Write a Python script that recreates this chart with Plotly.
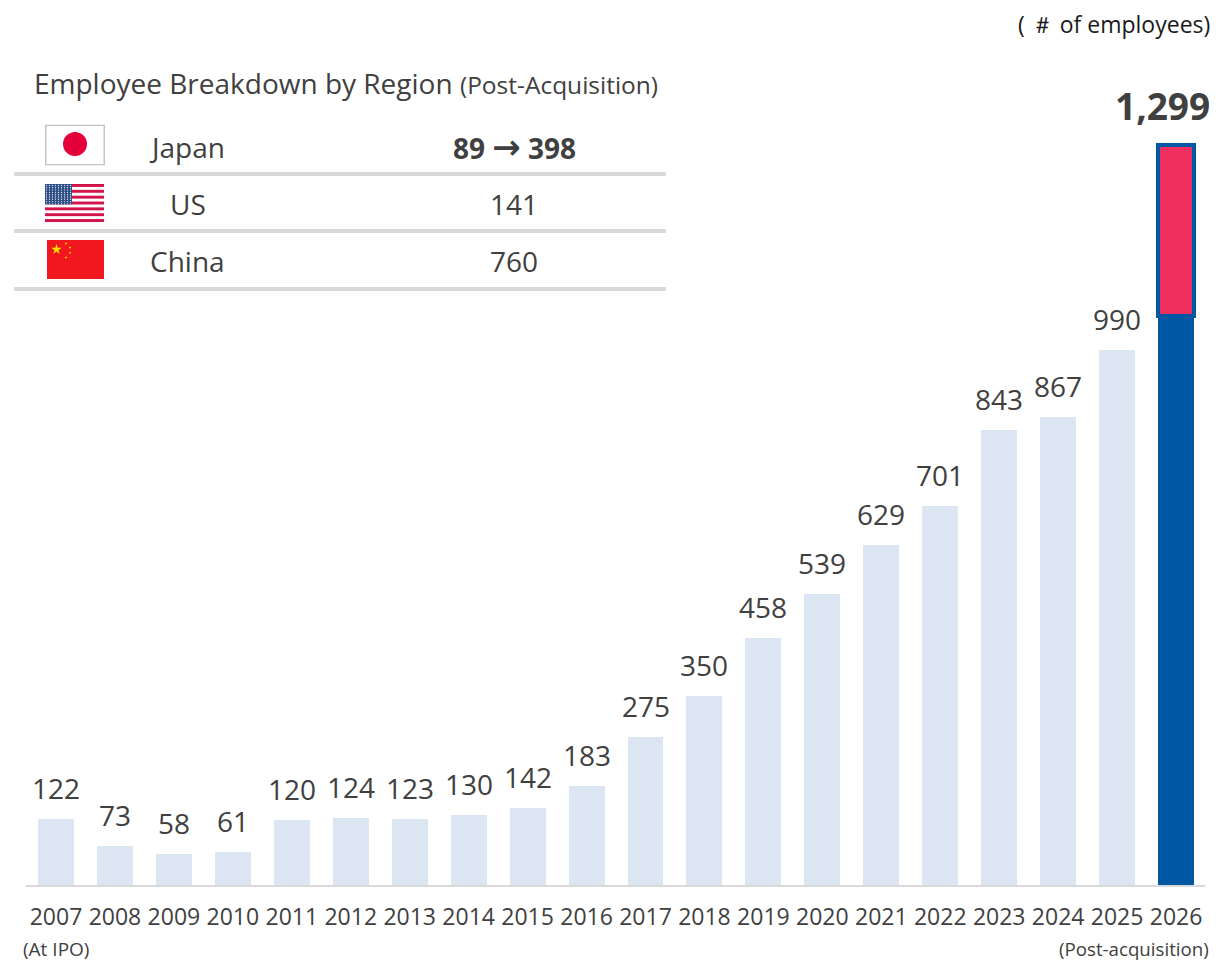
import base64
import math
import plotly.graph_objects as go

years = list(range(2007, 2026))
employees = [122, 73, 58, 61, 120, 124, 123, 130, 142, 183, 275, 350, 458, 539, 629, 701, 843, 867, 990]
year_2026 = 2026
base_2026_drawn = 1054
added_2026_drawn = 317
label_2026 = "1,299"
tick_years = list(range(2007, 2027))
regions = ["Japan", "US", "China"]
region_values = ["89 <span style=\"font-family:'DejaVu Sans';font-size:34px\">→</span> 398", "141", "760"]

PAGE_OFFSET = 8  # default body margin of the written page
W, H = 1230, 965
L, R, B = 26, 25, 80
PLOT_W = W - L - R
PLOT_H = H - B - PAGE_OFFSET
PX_PER_YEAR = 58.95
PX_PER_UNIT = 0.54
X0_PX = 56
TEXT = "#404040"
FONT = "Open Sans"


def px(x):
    return (x - L) / PLOT_W


def py(y):
    return (H - B - y) / PLOT_H


def x_at(p):
    return 2007 + (p - X0_PX) / PX_PER_YEAR


def svg_uri(svg):
    return "data:image/svg+xml;base64," + base64.b64encode(svg.encode()).decode()


japan_svg = ('<svg xmlns="http://www.w3.org/2000/svg" width="60" height="41" viewBox="0 0 60 41">'
             '<rect x="0.75" y="0.75" width="58.5" height="39.5" fill="#fff" stroke="#c4c4c4" stroke-width="1.5"/>'
             '<circle cx="30" cy="19.5" r="12" fill="#e4003a"/></svg>')
stripes = "".join(f'<rect y="{i * 38 / 13:.2f}" width="59" height="{38 / 13:.2f}" fill="#d2144a"/>' for i in range(0, 13, 2))
dots = "".join(f'<circle cx="{1.5 + c * 3:.1f}" cy="{1.5 + r * 2.3:.1f}" r="0.7" fill="#dfe6f0"/>'
               for r in range(9) for c in range(9))
us_svg = ('<svg xmlns="http://www.w3.org/2000/svg" width="59" height="38" viewBox="0 0 59 38">'
          f'<rect width="59" height="38" fill="#fff"/>{stripes}'
          f'<rect width="27" height="20.5" fill="#2a4d86"/>{dots}</svg>')


def star(cx, cy, r):
    pts = []
    for i in range(10):
        a = -math.pi / 2 + i * math.pi / 5
        rr = r if i % 2 == 0 else r * 0.38
        pts.append(f"{cx + rr * math.cos(a):.2f},{cy + rr * math.sin(a):.2f}")
    return f'<polygon points="{" ".join(pts)}" fill="#ffe000"/>'


china_svg = ('<svg xmlns="http://www.w3.org/2000/svg" width="57" height="39" viewBox="0 0 57 39">'
             '<rect width="57" height="39" fill="#f0171f"/>'
             + star(9.5, 9.5, 5.5) + star(19, 3.5, 1.6) + star(23, 7.5, 1.6) + star(23, 13, 1.6) + star(19, 17.5, 1.6)
             + '</svg>')

fig = go.Figure()
fig.add_bar(x=years, y=employees, marker=dict(color="#dce6f2", line_width=0), width=0.61, hoverinfo="skip")
fig.add_bar(x=[year_2026], y=[base_2026_drawn], marker=dict(color="#0058a4", line_width=0), width=0.61, hoverinfo="skip")
fig.add_bar(x=[year_2026], y=[added_2026_drawn], marker=dict(color="#ee2f5f", line=dict(color="#0058a4", width=4)),
            width=0.61, hoverinfo="skip")

ann = []
for yr, v in zip(years, employees):
    ann.append(dict(x=yr, y=v, xref="x", yref="y", text=str(v), showarrow=False, yanchor="middle",
                    yshift=31, font=dict(size=28, color=TEXT, family=FONT)))
ann.append(dict(x=year_2026, y=base_2026_drawn + added_2026_drawn, xref="x", yref="y",
                text=f"<b>{label_2026}</b>", showarrow=False, yanchor="middle", xshift=-14, yshift=39,
                font=dict(size=37, color=TEXT, family=FONT)))


def page_text(x, y, text, size, color=TEXT, anchor="center"):
    ann.append(dict(x=px(x), y=py(y), xref="paper", yref="paper", text=text, showarrow=False,
                    xanchor=anchor, yanchor="middle", font=dict(size=size, color=color, family=FONT)))


page_text(1212, 24, "( ＃ of employees)", 23, "#1a1a1a", "right")
page_text(32, 83, 'Employee Breakdown by Region <span style="font-size:24.5px">(Post-Acquisition)</span>', 28, TEXT, "left")
for name, val, cx, cy, bold in zip(regions, region_values, [187, 188, 187], [147, 204, 261], [True, False, False]):
    page_text(cx, cy, name, 28)
    page_text(514, cy, f"<b>{val}</b>" if bold else val, 28)
page_text(21, 949, "(At IPO)", 19, TEXT, "left")
page_text(1211, 948, "(Post-acquisition)", 18.7, TEXT, "right")

shapes = [dict(type="line", xref="paper", yref="paper", x0=px(14), x1=px(666), y0=py(y), y1=py(y),
               line=dict(color="#d9d9d9", width=4)) for y in [174, 231, 289]]

images = [
    dict(source=svg_uri(japan_svg), xref="paper", yref="paper", x=px(45), y=py(124.5), sizex=60 / PLOT_W, sizey=41 / PLOT_H,
         xanchor="left", yanchor="top", sizing="stretch", layer="above"),
    dict(source=svg_uri(us_svg), xref="paper", yref="paper", x=px(45), y=py(184), sizex=59 / PLOT_W, sizey=38 / PLOT_H,
         xanchor="left", yanchor="top", sizing="stretch", layer="above"),
    dict(source=svg_uri(china_svg), xref="paper", yref="paper", x=px(47), y=py(240), sizex=57 / PLOT_W, sizey=39 / PLOT_H,
         xanchor="left", yanchor="top", sizing="stretch", layer="above"),
]

fig.update_layout(
    width=W - PAGE_OFFSET, height=H - PAGE_OFFSET, barmode="stack", showlegend=False,
    margin=dict(l=L - PAGE_OFFSET, r=R, t=0, b=B, pad=0),
    paper_bgcolor="white", plot_bgcolor="white",
    annotations=ann, shapes=shapes, images=images,
    xaxis=dict(range=[x_at(L), x_at(W - R)], tickmode="array", tickvals=tick_years,
               ticktext=[str(y) for y in tick_years], showgrid=False, zeroline=False,
               showline=True, linecolor="#d9d9d9", linewidth=2,
               ticks="outside", ticklen=10, tickcolor="rgba(0,0,0,0)",
               tickangle=0, tickfont=dict(size=23, color=TEXT, family=FONT)),
    yaxis=dict(range=[0, PLOT_H / PX_PER_UNIT], visible=False),
)
fig.write_html("out.html")
